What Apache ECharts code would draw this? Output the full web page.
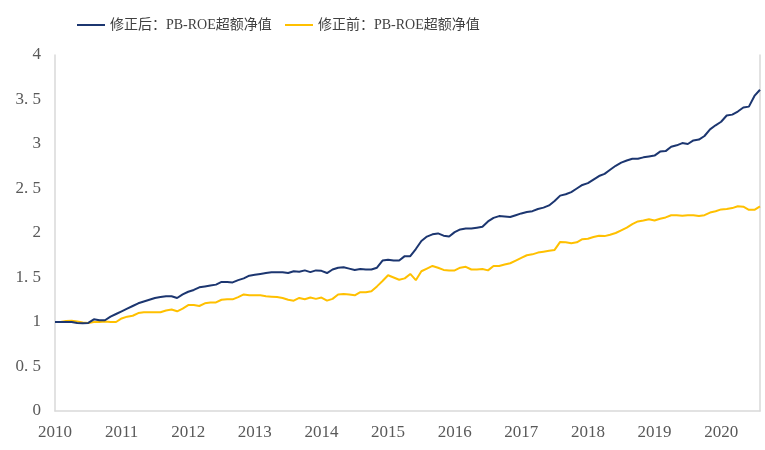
<!DOCTYPE html>
<html>
<head>
<meta charset="utf-8">
<script src="https://cdn.jsdelivr.net/npm/echarts@6/dist/echarts.min.js"></script>
<style>html,body{margin:0;padding:0;background:#fff;}#c{width:765px;height:450px;}</style>
</head>
<body>
<div id="c"></div>
<script>
var years = [2010, 2011, 2012, 2013, 2014, 2015, 2016, 2017, 2018, 2019, 2020];
var lastYearMonths = 8;
var seriesNames = ['修正后：PB-ROE超额净值', '修正前：PB-ROE超额净值'];
var afterValues = [
  1.00, 1.00, 1.00, 1.00, 0.99, 0.985, 0.99, 1.03, 1.02, 1.02, 1.06, 1.09,
  1.12, 1.15, 1.18, 1.21, 1.23, 1.25, 1.27, 1.28, 1.29, 1.29, 1.27, 1.31,
  1.34, 1.36, 1.39, 1.40, 1.41, 1.42, 1.45, 1.45, 1.445, 1.47, 1.49, 1.52,
  1.53, 1.54, 1.55, 1.56, 1.56, 1.56, 1.55, 1.57, 1.565, 1.58, 1.56, 1.58,
  1.575, 1.55, 1.59, 1.61, 1.615, 1.60, 1.585, 1.595, 1.59, 1.59, 1.61, 1.69,
  1.70, 1.69, 1.69, 1.74, 1.74, 1.82, 1.91, 1.96, 1.985, 1.995, 1.97, 1.96,
  2.01, 2.04, 2.05, 2.05, 2.06, 2.07, 2.13, 2.17, 2.19, 2.185, 2.18, 2.20,
  2.22, 2.235, 2.245, 2.27, 2.285, 2.31, 2.36, 2.42, 2.435, 2.46, 2.50, 2.54,
  2.56, 2.60, 2.64, 2.665, 2.71, 2.755, 2.79, 2.815, 2.835, 2.835, 2.85, 2.86,
  2.87, 2.915, 2.92, 2.97, 2.985, 3.01, 3.00, 3.04, 3.05, 3.09, 3.165, 3.21,
  3.25, 3.32, 3.33, 3.365, 3.41, 3.42, 3.54, 3.61
];
var beforeValues = [
  1.00, 1.00, 1.01, 1.015, 1.005, 0.995, 0.99, 1.00, 1.00, 1.005, 1.00, 1.00,
  1.04, 1.06, 1.07, 1.10, 1.11, 1.11, 1.11, 1.11, 1.13, 1.14, 1.12, 1.15,
  1.19, 1.19, 1.18, 1.21, 1.22, 1.22, 1.25, 1.255, 1.255, 1.28, 1.31, 1.30,
  1.30, 1.30, 1.29, 1.285, 1.28, 1.27, 1.25, 1.24, 1.27, 1.255, 1.275, 1.26,
  1.275, 1.24, 1.26, 1.31, 1.315, 1.31, 1.30, 1.335, 1.335, 1.345, 1.40, 1.46,
  1.525, 1.50, 1.475, 1.49, 1.54, 1.47, 1.57, 1.60, 1.63, 1.61, 1.585, 1.58,
  1.58, 1.61, 1.62, 1.59, 1.59, 1.595, 1.58, 1.63, 1.63, 1.645, 1.66, 1.69,
  1.72, 1.75, 1.76, 1.78, 1.79, 1.80, 1.81, 1.90, 1.895, 1.885, 1.895, 1.93,
  1.935, 1.955, 1.97, 1.965, 1.98, 2.00, 2.03, 2.06, 2.10, 2.13, 2.14, 2.155,
  2.14, 2.16, 2.175, 2.20, 2.20, 2.195, 2.20, 2.20, 2.19, 2.20, 2.23, 2.245,
  2.265, 2.27, 2.28, 2.30, 2.295, 2.26, 2.26, 2.30
];

var categories = [];
years.forEach(function (y, k) {
  var n = (k === years.length - 1) ? lastYearMonths : 12;
  for (var m = 1; m <= n; m++) categories.push(y + '-' + (m < 10 ? '0' + m : m));
});

var axisFont = 'Liberation Serif, DejaVu Serif, serif';
var legendText = {fontFamily: 'Liberation Serif, Noto Sans CJK SC', fontSize: 14, color: '#404040'};
var chart = echarts.init(document.getElementById('c'), null, {renderer: 'canvas'});
chart.setOption({
  animation: false,
  backgroundColor: '#fff',
  legend: [{
    top: 13, left: 72,
    itemWidth: 28, itemHeight: 2, icon: 'rect',
    textStyle: legendText,
    data: [seriesNames[0]]
  }, {
    top: 13, left: 280,
    itemWidth: 28, itemHeight: 2, icon: 'rect',
    textStyle: legendText,
    data: [seriesNames[1]]
  }],
  grid: {left: 55, right: 5, top: 55, bottom: 39, containLabel: false},
  xAxis: {
    type: 'category',
    boundaryGap: false,
    data: categories,
    axisLine: {show: true, lineStyle: {color: '#d9d9d9', width: 1.5}},
    axisTick: {show: false},
    splitLine: {show: false},
    axisLabel: {
      interval: function (idx) { return idx % 12 === 0; },
      formatter: function (v) { return v.slice(0, 4); },
      fontFamily: axisFont, fontSize: 17, color: '#595959', margin: 13
    }
  },
  yAxis: [{
    type: 'value',
    min: 0, max: 4, interval: 0.5,
    axisLine: {show: true, lineStyle: {color: '#d9d9d9', width: 1.5}},
    axisTick: {show: false},
    splitLine: {show: false},
    axisLabel: {
      formatter: function (v) { return String(v).replace('.', '. '); },
      fontFamily: axisFont, fontSize: 17, color: '#595959', margin: 14
    }
  }, {
    type: 'value',
    position: 'right',
    min: 0, max: 4, interval: 0.5,
    axisLine: {show: true, lineStyle: {color: '#d9d9d9', width: 1.5}},
    axisTick: {show: false},
    axisLabel: {show: false},
    splitLine: {show: false}
  }],
  series: [{
    name: seriesNames[0],
    type: 'line',
    data: afterValues,
    showSymbol: false,
    symbol: 'none',
    lineStyle: {color: '#1c3670', width: 2},
    itemStyle: {color: '#1c3670'},
    z: 3
  }, {
    name: seriesNames[1],
    type: 'line',
    data: beforeValues,
    showSymbol: false,
    symbol: 'none',
    lineStyle: {color: '#ffc000', width: 2},
    itemStyle: {color: '#ffc000'},
    z: 2
  }]
});
</script>
</body>
</html>
